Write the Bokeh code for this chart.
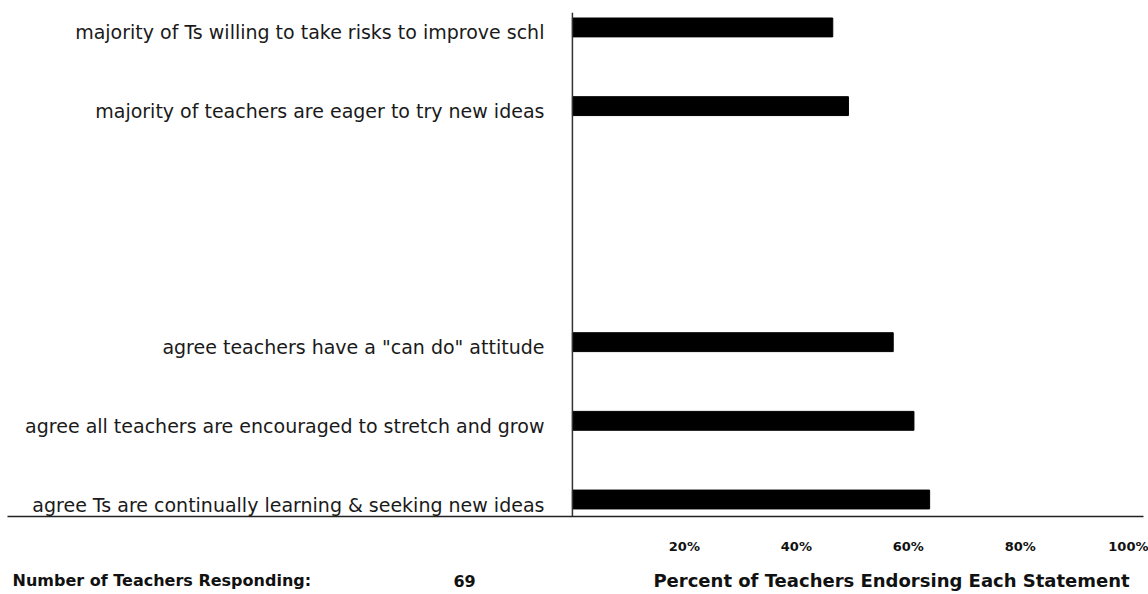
from bokeh.plotting import figure
from bokeh.layouts import column
from bokeh.models import Range1d, Span, FixedTicker, PrintfTickFormatter, ColumnDataSource
from bokeh.core.properties import value
from bokeh.embed import file_html
from bokeh.resources import INLINE

# ---- data (bottom to top; blank rows are empty slots in the original) ----
statements = [
    "agree Ts are continually learning & seeking new ideas",
    "agree all teachers are encouraged to stretch and grow",
    'agree teachers have a "can do" attitude',
    "",
    "",
    "majority of teachers are eager to try new ideas",
    "majority of Ts willing to take risks to improve schl",
]
percents = [63.8, 61.0, 57.3, None, None, 49.3, 46.5]
tick_values = [20, 40, 60, 80, 100]
n_label = "Number of Teachers Responding:"
n_responding = "69"
x_title = "Percent of Teachers Endorsing Each Statement"

rows = [i for i, s in enumerate(statements) if s]
src = ColumnDataSource(dict(
    row=rows,
    pct=[percents[i] for i in rows],
    label=[statements[i] for i in rows],
))

xr = Range1d(-100.9, 102.0)

p = figure(width=1148, height=558, output_backend="svg", toolbar_location=None,
           x_range=xr, y_range=Range1d(-0.216, 6.19),
           y_axis_location=None, min_border_left=7, min_border_right=5,
           min_border_top=12, min_border_bottom=42)
p.outline_line_color = None
p.xgrid.visible = False
p.ygrid.visible = False

ax = p.xaxis[0]
ax.ticker = FixedTicker(ticks=tick_values)
ax.formatter = PrintfTickFormatter(format="%d%%")
ax.major_tick_in = 0
ax.major_tick_out = 0
ax.minor_tick_in = 0
ax.minor_tick_out = 0
ax.axis_line_color = "#222222"
ax.axis_line_width = 1.5
ax.major_label_text_font = "DejaVu Sans"
ax.major_label_text_font_style = "bold"
ax.major_label_text_font_size = "13px"
ax.major_label_text_color = "#111111"
ax.major_label_standoff = 22

p.add_layout(Span(location=0, dimension="height", line_color="#333333", line_width=1.5))

p.hbar(y="row", left=0, right="pct", height=0.24, source=src,
       fill_color="black", line_color="black")

p.text(x=0, y="row", text="label", source=src, x_offset=-28, y_offset=5,
       text_align="right", text_baseline="middle",
       text_font=value("DejaVu Sans"), text_font_size="19px", text_color="#1a1a1a")

# ---- footer row ----
f = figure(width=1148, height=36, output_backend="svg", toolbar_location=None,
           x_range=xr, y_range=Range1d(0, 1), x_axis_location=None, y_axis_location=None,
           min_border_left=7, min_border_right=5, min_border_top=0, min_border_bottom=0)
f.outline_line_color = None
f.xgrid.visible = False
f.ygrid.visible = False

foot_style = dict(y=0.5, y_offset=4, text_baseline="middle", text_font=value("DejaVu Sans"),
                  text_font_style="bold", text_color="#111111")
f.text(x=[-100.0, -21.25], text=[n_label, n_responding], text_align="left",
       text_font_size="16px", **foot_style)
f.text(x=[57.0], text=[x_title], text_align="center", text_font_size="18px", **foot_style)

layout = column(p, f, spacing=0)
open("out.html", "w").write(file_html(layout, INLINE))
